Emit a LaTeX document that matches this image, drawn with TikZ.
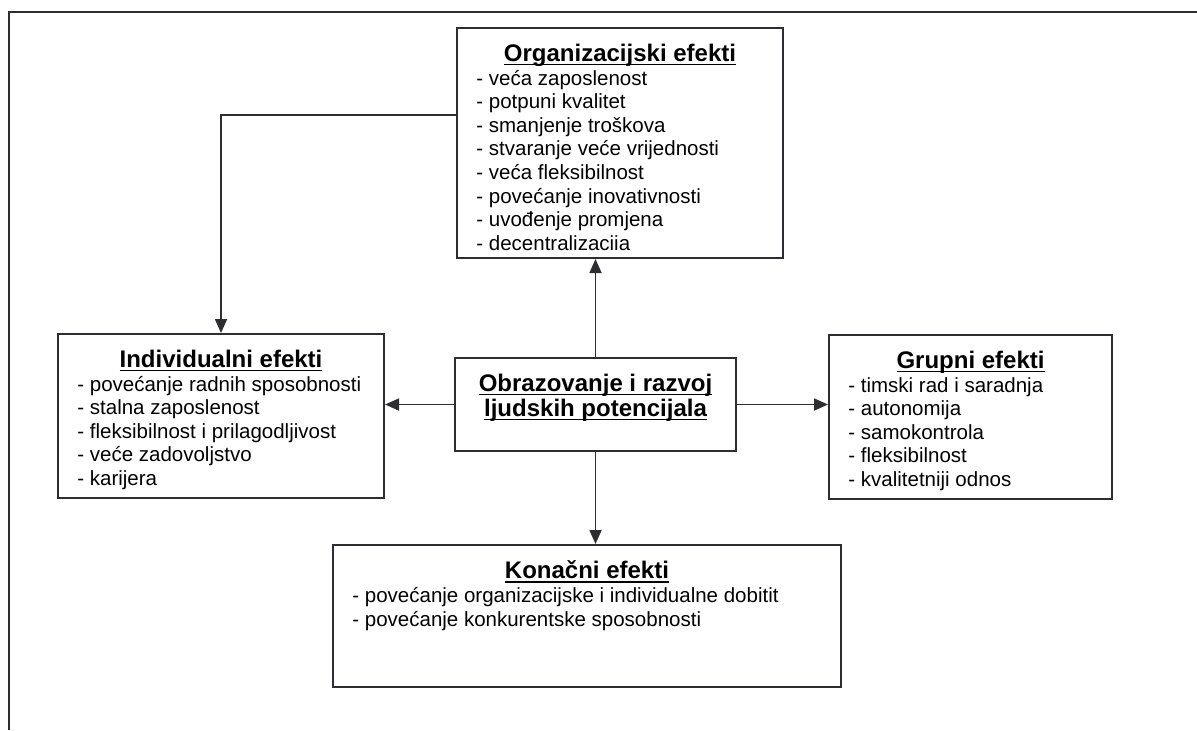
\documentclass[tikz,border=0pt]{standalone}
\usepackage{fontspec}
\setmainfont{Liberation Sans}
\usepackage{tikz}
\usetikzlibrary{
  arrows.meta,
  calc,
  positioning
}
\definecolor{boxline}{RGB}{45,45,50}

\newcommand{\titlefont}{\fontsize{12}{12.5}\selectfont\bfseries}
\newcommand{\ttl}[1]{\leavevmode\setbox0\hbox{\titlefont #1}\rlap{\rule[-1.8pt]{\wd0}{0.7pt}}\box0}
\newcommand{\efbox}[4]{\parbox[c][#2][t]{#1}{\fontsize{10.25}{11.8}\selectfont
  \vspace*{8pt}{\centering\ttl{#3}\par}\raggedright\leftskip=9.7pt #4}}

\tikzset{
  efnode/.style={draw=boxline, line width=1pt, inner sep=0pt, anchor=north west},
  link/.style={draw=boxline, line width=0.9pt, -{Triangle[length=7pt,width=6pt]}}
}

\begin{document}
\begin{tikzpicture}[x=0.5pt, y=-0.5pt]
  \useasboundingbox (0,0) rectangle (1197,730);

  % Outer frame (runs off the page at right and bottom)
  \draw[boxline, line width=1pt] (9,730) -- (9,12) -- (1197,12);

  % Boxes
  \node[efnode] (org) at (456,27) {\efbox{163pt}{115pt}{Organizacijski efekti}{%
    - veća zaposlenost\\
    - potpuni kvalitet\\
    - smanjenje troškova\\
    - stvaranje veće vrijednosti\\
    - veća fleksibilnost\\
    - povećanje inovativnosti\\
    - uvođenje promjena\\
    - decentralizaciia}};

  \node[efnode] (ind) at (57,333) {\efbox{163pt}{82pt}{Individualni efekti}{%
    - povećanje radnih sposobnosti\\
    - stalna zaposlenost\\
    - fleksibilnost i prilagodljivost\\
    - veće zadovoljstvo\\
    - karijera}};

  \node[efnode] (grp) at (828,334) {\efbox{141.5pt}{82pt}{Grupni efekti}{%
    - timski rad i saradnja\\
    - autonomija\\
    - samokontrola\\
    - fleksibilnost\\
    - kvalitetniji odnos}};

  \node[efnode] (kon) at (332,544) {\efbox{254pt}{71pt}{Konačni efekti}{%
    - povećanje organizacijske i individualne dobitit\\
    - povećanje konkurentske sposobnosti}};

  \node[efnode] (ctr) at (454,357) {\parbox[c][46.5pt][t]{140.5pt}{\titlefont
    \vspace*{8pt}\centering\ttl{Obrazovanje i razvoj}\\\ttl{ljudskih potencijala}}};

  % Connectors
  \draw[link] (ctr.north) -- (ctr.north |- org.south);
  \draw[link] (ctr.west) -- (ctr.west -| ind.east);
  \draw[link] (ctr.east) -- (ctr.east -| grp.west);
  \draw[link] (ctr.south) -- (ctr.south |- kon.north);
  \draw[link] ($(org.north west)!0.378!(org.south west)$) -| (ind.north);
\end{tikzpicture}
\end{document}
